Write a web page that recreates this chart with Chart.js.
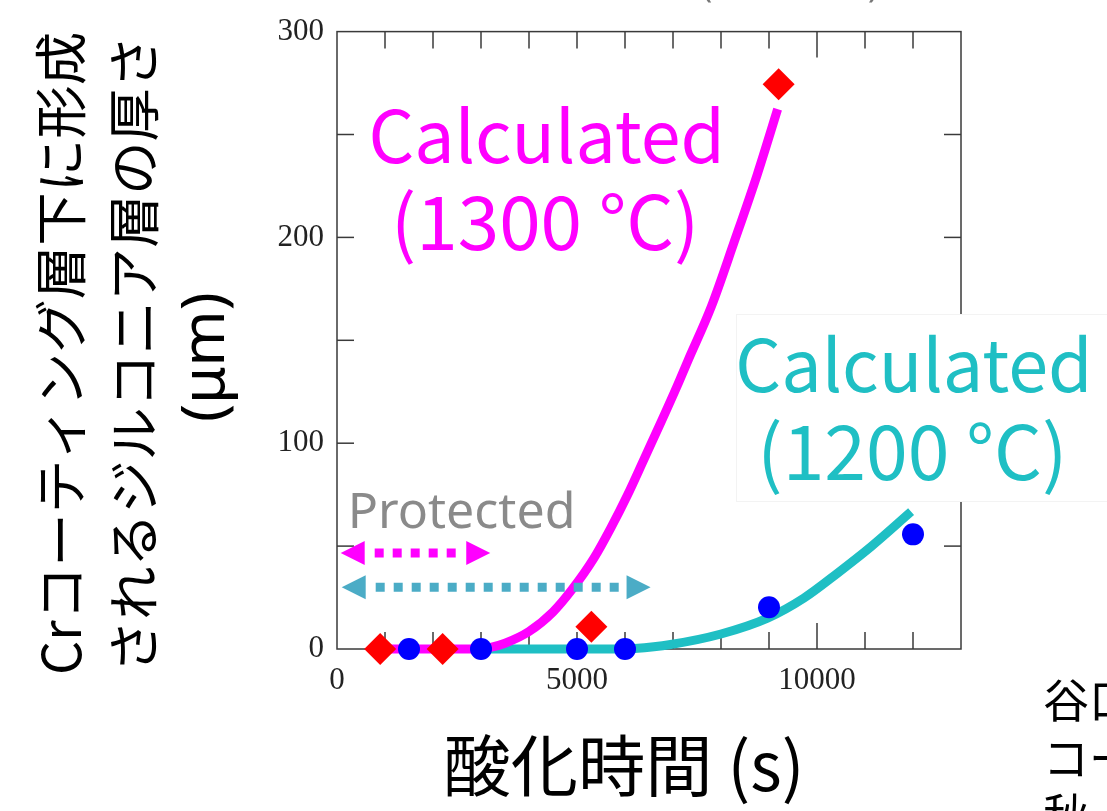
<!DOCTYPE html>
<html>
<head>
<meta charset="utf-8">
<script src="https://cdn.jsdelivr.net/npm/chart.js@4"></script>
<style>
html,body{margin:0;padding:0;background:#fff;overflow:hidden}
#wrap{width:1107px;height:811px;position:relative}
</style>
</head>
<body>
<div id="wrap"><canvas id="c" width="1107" height="811"></canvas></div>
<script>
// ---- data (time in s, thickness in µm) ----
const exp1300Time = [900, 2200, 5300, 9200];
const exp1300Thickness = [0, 0, 10.8, 274.4];
const exp1200Time = [1500, 3000, 5000, 6000, 9000, 12000];
const exp1200Thickness = [0, 0, 0, 0, 20.3, 55.7];
const calc1300Time = [900, 2000, 2800, 3200, 3500, 4000, 4500, 4900, 5350, 5700, 6050, 6400, 6750, 7100, 7300, 7800, 8270, 8760, 9180];
const calc1300Thickness = [0, 0, 0, 0.8, 2.8, 8.5, 18, 29, 44, 58.6, 74.7, 92.4, 110.2, 128.5, 139.5, 166.5, 197.5, 230.9, 262.3];
const calc1200Time = [3000, 4500, 6000, 6200, 6950, 8000, 8970, 9730, 10430, 11130, 11960];
const calc1200Thickness = [0, 0, 0, 0.2, 2.2, 7.3, 15, 24.8, 36.9, 49.8, 66.7];
const xTickLabels = [0, 5000, 10000];
const yTickLabels = [0, 100, 200, 300];
const protectedRange1300 = [77, 3193];   // s
const protectedRange1200 = [98, 6532];   // s

const pts = (xs, ys) => xs.map((x, i) => ({x, y: ys[i]}));

const MAG = '#FF00FF';
const CYAN = '#1FBFC4';
const ARROW_CYAN = '#4BACC6';

function drawFit(ctx, text, family, left, right, baseY, color, baseline) {
  ctx.font = '100px ' + family;
  ctx.textAlign = 'left';
  ctx.textBaseline = baseline || 'alphabetic';
  let m = ctx.measureText(text);
  const ink = m.actualBoundingBoxLeft + m.actualBoundingBoxRight;
  const size = 100 * (right - left) / ink;
  ctx.font = size + 'px ' + family;
  m = ctx.measureText(text);
  ctx.fillStyle = color;
  ctx.fillText(text, left + m.actualBoundingBoxLeft, baseY);
  return size;
}

function seg(ctx, x1, y1, x2, y2) {
  ctx.beginPath(); ctx.moveTo(x1, y1); ctx.lineTo(x2, y2); ctx.stroke();
}

function dottedArrow(ctx, x1, x2, y, color) {
  const head = 24, half = 12;
  ctx.save();
  ctx.strokeStyle = color; ctx.fillStyle = color;
  ctx.lineWidth = 9; ctx.lineCap = 'butt';
  ctx.setLineDash([9, 9]);
  seg(ctx, x1 + head + 10, y, x2 - head - 6, y);
  ctx.setLineDash([]);
  ctx.beginPath(); ctx.moveTo(x1, y); ctx.lineTo(x1 + head, y - half); ctx.lineTo(x1 + head, y + half); ctx.closePath(); ctx.fill();
  ctx.beginPath(); ctx.moveTo(x2, y); ctx.lineTo(x2 - head, y - half); ctx.lineTo(x2 - head, y + half); ctx.closePath(); ctx.fill();
  ctx.restore();
}

const deco = {
  id: 'deco',
  beforeDatasetsDraw(chart) {
    const {ctx, chartArea: a, scales: {x, y}} = chart;
    ctx.save();
    ctx.strokeStyle = '#3a3a3a';
    ctx.lineWidth = 1.5;
    for (let v = 1000; v < 13000; v += 1000) {
      const px = x.getPixelForValue(v);
      const len = v % 10000 === 0 ? 26 : 17;
      seg(ctx, px, a.bottom, px, a.bottom - len);
      seg(ctx, px, a.top, px, a.top + len);
    }
    for (let v = 50; v < 300; v += 50) {
      const py = y.getPixelForValue(v);
      seg(ctx, a.left, py, a.left + 17, py);
      seg(ctx, a.right, py, a.right - 17, py);
    }
    ctx.strokeRect(a.left, a.top, a.right - a.left, a.bottom - a.top);
    ctx.restore();
  },
  afterDatasetsDraw(chart) {
    const {ctx, scales: {x, y}} = chart;
    ctx.save();
    // protected arrows
    dottedArrow(ctx, x.getPixelForValue(protectedRange1300[0]), x.getPixelForValue(protectedRange1300[1]), y.getPixelForValue(46.6), MAG);
    dottedArrow(ctx, x.getPixelForValue(protectedRange1200[0]), x.getPixelForValue(protectedRange1200[1]), y.getPixelForValue(30.0), ARROW_CYAN);
    drawFit(ctx, 'Protected', '"Noto Sans"', 351.7, 570.7, 528.3, '#8a8a8a');

    // magenta label
    drawFit(ctx, 'Calculated', '"Noto Sans CJK JP"', 372.5, 719, 163.3, MAG);
    drawFit(ctx, '(1300 °C)', '"Noto Sans CJK JP"', 397, 692, 250, MAG);

    // cyan label with white box
    ctx.fillStyle = '#ffffff';
    ctx.fillRect(736, 314, 400, 188);
    ctx.strokeStyle = '#f3f3f3'; ctx.lineWidth = 1;
    ctx.strokeRect(736.5, 314.5, 400, 187);
    drawFit(ctx, 'Calculated', '"Noto Sans CJK JP"', 739.3, 1086.7, 391.7, CYAN);
    drawFit(ctx, '(1200 °C)', '"Noto Sans CJK JP"', 763.3, 1060, 480, CYAN);

    // y-axis title (rotated)
    const yTitle = [
      ['Crコーティング層下に形成', '"Noto Sans CJK JP"', 61, 672, 33.5],
      ['されるジルコニア層の厚さ', '"Noto Sans CJK JP"', 134, 665, 42],
      ['(μm)', '"Noto Sans"', 206.5, 420, 295]
    ];
    yTitle.forEach(([t, fam, cx, yb, yt]) => {
      ctx.save();
      ctx.translate(cx, 0);
      ctx.rotate(-Math.PI / 2);
      drawFit(ctx, t, fam, -yb, -yt, 0, '#000', 'middle');
      ctx.restore();
    });

    // x-axis title
    drawFit(ctx, '酸化時間 (s)', '"Noto Sans CJK JP"', 446.4, 798.2, 791, '#000');

    // cropped neighbouring texts
    ctx.fillStyle = '#000';
    ctx.textAlign = 'left'; ctx.textBaseline = 'alphabetic';
    ctx.font = '46px "Noto Sans CJK JP"';
    ctx.fillText('谷口', 1043, 717);
    ctx.fillText('コー', 1043, 774.5);
    ctx.fillText('秋', 1043, 832);
    ctx.fillStyle = '#777';
    ctx.font = '34px "Noto Sans"';
    ctx.fillText('(', 702, -3);
    ctx.fillText(')', 868, -3);
    ctx.restore();
  }
};

new Chart(document.getElementById('c'), {
  type: 'scatter',
  data: {
    datasets: [
      {label: '1200 °C exp', data: pts(exp1200Time, exp1200Thickness), pointStyle: 'circle', pointRadius: 11, backgroundColor: '#0000FF', borderWidth: 0, order: 0, clip: false},
      {label: '1300 °C exp', data: pts(exp1300Time, exp1300Thickness), pointStyle: 'rectRot', pointRadius: 16, backgroundColor: '#FF0000', borderWidth: 0, order: 1, clip: false},
      {type: 'line', label: 'Calculated (1300 °C)', data: pts(calc1300Time, calc1300Thickness), showLine: true, fill: false, borderColor: MAG, borderWidth: 9, pointRadius: 0, cubicInterpolationMode: 'monotone', order: 2, clip: false},
      {type: 'line', label: 'Calculated (1200 °C)', data: pts(calc1200Time, calc1200Thickness), showLine: true, fill: false, borderColor: CYAN, borderWidth: 9, pointRadius: 0, cubicInterpolationMode: 'monotone', order: 3, clip: false}
    ]
  },
  options: {
    responsive: false,
    animation: false,
    events: [],
    layout: {padding: {top: 27, right: 146, left: 0, bottom: 0}},
    plugins: {legend: {display: false}, tooltip: {enabled: false}},
    scales: {
      x: {
        type: 'linear', position: 'bottom', min: 0, max: 13000,
        grid: {display: false, drawTicks: false}, border: {display: false},
        ticks: {font: {family: '"Liberation Serif"', size: 31}, color: '#222', padding: 13, maxRotation: 0, autoSkip: false, callback: v => String(v)},
        afterBuildTicks: s => { s.ticks = xTickLabels.map(v => ({value: v})); },
        afterFit: s => { s.height = 162; }
      },
      y: {
        type: 'linear', position: 'left', min: 0, max: 300,
        grid: {display: false, drawTicks: false}, border: {display: false},
        ticks: {font: {family: '"Liberation Serif"', size: 31}, color: '#222', padding: 13, autoSkip: false, callback: v => String(v)},
        afterBuildTicks: s => { s.ticks = yTickLabels.map(v => ({value: v})); },
        afterFit: s => { s.width = 337; }
      }
    }
  },
  plugins: [deco]
});
</script>
</body>
</html>
